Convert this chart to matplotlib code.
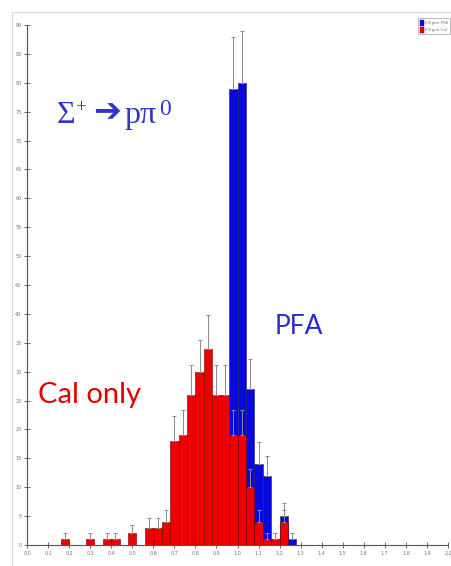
import matplotlib
matplotlib.use("Agg")
import matplotlib.pyplot as plt
from matplotlib.patches import Rectangle, Patch
import numpy as np

# ---------------- data ----------------
bin_width = 0.04
red_bins = [0.16, 0.28, 0.36, 0.40, 0.48, 0.56, 0.60, 0.64, 0.68, 0.72, 0.76,
            0.80, 0.84, 0.88, 0.92, 0.96, 1.00, 1.04, 1.08, 1.12, 1.16, 1.20]
red_counts = [1, 1, 1, 1, 2, 3, 3, 4, 18, 19, 26,
              30, 34, 26, 26, 19, 19, 10, 4, 1, 1, 4]
blue_bins = [0.96, 1.00, 1.04, 1.08, 1.12, 1.16, 1.20, 1.24]
blue_counts = [79, 80, 27, 14, 12, 1, 5, 1]

x_ticks = [0.0, 0.1, 0.2, 0.3, 0.4, 0.5, 0.6, 0.7, 0.8, 0.9, 1.0,
           1.1, 1.2, 1.3, 1.4, 1.5, 1.6, 1.7, 1.8, 1.9, 2.0]
x_ticklabels = ["0.0", "0.1", "0.2", "0.3", "0.4", "0.5", "0.6", "0.7", "0.8", "0.9", "1.0",
                "1.1", "1.2", "1.3", "1.4", "1.5", "1.6", "1.7", "1.8", "1.9", "2.0"]
y_ticks = [0, 5, 10, 15, 20, 25, 30, 35, 40, 45, 50, 55, 60, 65, 70, 75, 80, 85, 90]
legend_labels = ["E/Egen PFA", "E/Egen Cal"]

RED = "#ee0000"
BLUE = "#0808e0"
TITLE_C = "#3434c8"

# ---------------- figure ----------------
W, H = 451, 566
fig = plt.figure(figsize=(W / 100, H / 100), dpi=100)
fig.patch.set_facecolor("white")

# light frame around the plot area
fig.patches.append(Rectangle((12 / W, -0.1), 1.2, 1 - 12 / H + 0.1,
                             transform=fig.transFigure, fill=False,
                             edgecolor="#d8d8d8", linewidth=0.8))

ax = fig.add_axes([27 / W, 21 / H, (448 - 27) / W, (545 - 25) / H])
ax.set_facecolor("none")

# blue (PFA) histogram
ax.bar(blue_bins, blue_counts, width=bin_width, align="edge",
       color=BLUE, edgecolor="#202060", linewidth=0.4, zorder=2)
bc = np.array(blue_bins) + bin_width / 2
bv = np.array(blue_counts, dtype=float)
ax.errorbar(bc, bv, yerr=[np.zeros_like(bv), np.sqrt(bv)], fmt="none",
            ecolor="#8a8a8a", elinewidth=0.7, capsize=1.5, capthick=0.7, zorder=3)

# red (Cal only) histogram
ax.bar(red_bins, red_counts, width=bin_width, align="edge",
       color=RED, edgecolor="#6a0000", linewidth=0.4, zorder=4)
rc = np.array(red_bins) + bin_width / 2
rv = np.array(red_counts, dtype=float)
ax.errorbar(rc, rv, yerr=[np.zeros_like(rv), np.sqrt(rv)], fmt="none",
            ecolor="#8a8a8a", elinewidth=0.7, capsize=1.5, capthick=0.7, zorder=5)

ax.set_xlim(0, 2.0)
ax.set_ylim(0, 90)
ax.set_xticks(x_ticks)
ax.set_xticklabels(x_ticklabels)
ax.set_yticks(y_ticks)
ax.tick_params(axis="both", direction="inout", length=4, width=0.6,
               color="#555555", labelsize=3.5, labelcolor="#777777", pad=2)
for s in ["top", "right"]:
    ax.spines[s].set_visible(False)
for s in ["left", "bottom"]:
    ax.spines[s].set_color("#555555")
    ax.spines[s].set_linewidth(0.8)

# annotations: Σ+ -> p π0
ax.text(0.140, 73.0, "Σ", fontsize=23, color=TITLE_C,
        family="Liberation Serif", va="baseline", ha="left")
ax.text(0.228, 75.0, "+", fontsize=14, color=TITLE_C,
        family="Liberation Serif", va="baseline", ha="left")
ax.text(0.315, 73.3, "➔", fontsize=24, color=TITLE_C,
        family="DejaVu Sans", va="baseline", ha="left")
ax.text(0.462, 73.0, "pπ", fontsize=23, color=TITLE_C,
        family="Liberation Serif", va="baseline", ha="left")
ax.text(0.626, 74.4, "0", fontsize=17, color=TITLE_C,
        family="Liberation Serif", va="baseline", ha="left")

ax.text(1.178, 36.5, "PFA", fontsize=19, color="#2a2ad0",
        family=["Lato", "DejaVu Sans"], va="baseline", ha="left")
ax.text(0.052, 24.6, "Cal only", fontsize=21, color="#e00000",
        family=["Lato", "DejaVu Sans"], va="baseline", ha="left")

# legend
handles = [Patch(facecolor=BLUE, edgecolor="#202060", linewidth=0.3),
           Patch(facecolor=RED, edgecolor="#6a0000", linewidth=0.3)]
leg = fig.legend(handles, legend_labels, loc="upper right",
                 bbox_to_anchor=(450 / W, 1 - 18 / H), fontsize=3.0,
                 frameon=True, fancybox=False, handlelength=1.0, handleheight=1.8,
                 handletextpad=0.4, borderpad=0.4, labelspacing=0.3,
                 borderaxespad=0)
leg.get_frame().set_edgecolor("#888888")
leg.get_frame().set_linewidth(0.5)
for t in leg.get_texts():
    t.set_color("#777777")

fig.savefig("out.png", dpi=100)
